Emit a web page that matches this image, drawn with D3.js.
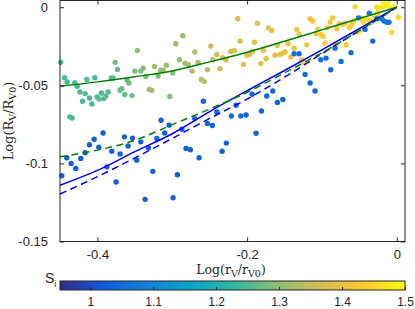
<!DOCTYPE html>
<html>
<head>
<meta charset="utf-8">
<script src="https://cdn.jsdelivr.net/npm/d3@7"></script>
<style>
  body { margin: 0; background: #fff; }
  svg { display: block; font-family: "Liberation Sans", Arial, sans-serif; }
</style>
</head>
<body>
<div id="chart"></div>
<script>
// points: [Log(rV/rV0), Log(RV/RV0), S_i]
const greenPts = [
  [-0.449,-0.0353,1.24],[-0.444,-0.0451,1.24],[-0.4405,-0.0479,1.24],[-0.4302,-0.0483,1.25],
  [-0.4271,-0.0506,1.24],[-0.4235,-0.0543,1.25],[-0.42,-0.0602,1.25],[-0.4142,-0.0462,1.25],
  [-0.4164,-0.0553,1.25],[-0.4107,-0.0581,1.25],[-0.4075,-0.0619,1.25],[-0.4035,-0.0451,1.25],
  [-0.4004,-0.0575,1.25],[-0.3977,-0.0588,1.26],[-0.3947,-0.0549,1.25],[-0.3914,-0.0585,1.26],
  [-0.3888,-0.057,1.26],[-0.3857,-0.0543,1.26],[-0.3813,-0.0453,1.26],[-0.379,-0.0453,1.26],
  [-0.3763,-0.0353,1.28],[-0.3733,-0.0398,1.27],[-0.3697,-0.0532,1.27],[-0.3674,-0.0521,1.27],
  [-0.3634,-0.0559,1.27],[-0.3603,-0.0468,1.28],[-0.358,-0.0485,1.28],[-0.3536,-0.0566,1.28],
  [-0.35,-0.0409,1.28],[-0.3466,-0.0277,1.31],[-0.342,-0.0409,1.29],[-0.3389,-0.0391,1.29],
  [-0.3353,-0.0444,1.29],[-0.3309,-0.0527,1.32],[-0.3273,-0.0532,1.32],[-0.3238,-0.0379,1.31],
  [-0.3189,-0.0441,1.29],[-0.3158,-0.0404,1.31],[-0.3122,-0.0404,1.31],[-0.3078,-0.0372,1.31],
  [-0.4369,-0.0702,1.25],[-0.4338,-0.0709,1.25],[-0.3033,-0.0572,1.29],[-0.2993,-0.0421,1.3],
  [-0.2953,-0.0234,1.31],[-0.2904,-0.0336,1.31],[-0.2859,-0.0183,1.32],[-0.2828,-0.0358,1.32],
  [-0.2784,-0.0368,1.32],[-0.2735,-0.0409,1.33],[-0.2699,-0.0287,1.33],[-0.2655,-0.0353,1.33],
  [-0.2611,-0.0462,1.34],[-0.2574,-0.0476,1.34]
];
const orangePts = [
  [-0.253,-0.04,1.35],[-0.2485,-0.0249,1.36],[-0.2458,-0.0336,1.36],[-0.2405,-0.0302,1.37],
  [-0.2361,-0.0393,1.37],[-0.2325,-0.0323,1.38],[-0.2281,-0.0336,1.38],[-0.2218,-0.0283,1.38],
  [-0.217,-0.0277,1.38],[-0.2124,-0.0074,1.38],[-0.2094,-0.0217,1.38],[-0.2049,-0.0366,1.39],
  [-0.2004,-0.0308,1.39],[-0.1969,-0.0302,1.39],[-0.1929,-0.0283,1.38],[-0.1902,-0.0224,1.39],
  [-0.1862,-0.0102,1.39],[-0.1817,-0.0361,1.39],[-0.1782,-0.0277,1.39],[-0.1746,-0.033,1.4],
  [-0.1715,-0.0132,1.4],[-0.167,-0.0149,1.4],[-0.1626,-0.0308,1.4],[-0.1595,-0.0245,1.4],
  [-0.1559,-0.0302,1.4],[-0.1523,-0.0294,1.4],[-0.1492,-0.0287,1.4],[-0.1452,-0.0234,1.41],
  [-0.1416,-0.0319,1.4],[-0.1372,-0.0262,1.41],[-0.1336,-0.0142,1.41],[-0.1305,-0.0174,1.41]
];
const yellowPts = [
  [-0.1269,-0.0336,1.42],[-0.1238,-0.0351,1.42],[-0.1202,-0.024,1.42],[-0.1158,-0.0074,1.42],
  [-0.1122,-0.0089,1.42],[-0.1078,-0.017,1.42],[-0.1055,-0.0142,1.43],[-0.1011,-0.0174,1.43],
  [-0.0985,-0.0187,1.43],[-0.0958,-0.0229,1.43],[-0.0927,-0.0132,1.43],[-0.0891,-0.0096,1.43],
  [-0.0855,-0.0068,1.43],[-0.0824,-0.0238,1.43],[-0.0802,-0.0138,1.43],[-0.0767,-0.0106,1.44],
  [-0.0721,-0.011,1.44],[-0.0691,-0.0102,1.44],[-0.0677,-0.024,1.43],[-0.0633,-0.0132,1.44],
  [-0.0601,-0.011,1.44],[-0.058,-0.0089,1.44],[-0.0557,0.0004,1.45],[-0.0534,-0.016,1.44],
  [-0.05,-0.0149,1.44],[-0.0481,-0.0068,1.45],[-0.0446,-0.0096,1.45],[-0.0424,-0.0085,1.45],
  [-0.0379,-0.008,1.45],[-0.0347,-0.0085,1.45],[-0.0334,-0.0096,1.45],[-0.029,-0.0059,1.46],
  [-0.0267,0,1.46],[-0.0246,-0.0059,1.46],[-0.0254,-0.0032,1.46],[-0.0223,0,1.47],
  [-0.017,0.0004,1.47],[-0.0134,0.0011,1.48],[-0.0112,0.0036,1.49],[-0.009,0,1.48],
  [-0.0067,-0.016,1.45],[-0.0023,0,1.5],[0.0021,-0.0064,1.46],[-0.0179,0.0032,1.49]
];
const bluePts = [
  [-0.1372,-0.0298,1.06],[-0.1305,-0.0298,1.06],[-0.1225,-0.043,1.05],[-0.1158,-0.0485,1.05],
  [-0.1092,-0.0536,1.05],[-0.1015,-0.0336,1.06],[-0.0945,-0.0326,1.06],[-0.0882,-0.04,1.05],
  [-0.0824,-0.0262,1.06],[-0.0744,-0.0347,1.05],[-0.0611,-0.0291,1.05],[-0.0513,-0.0068,1.07],
  [-0.0424,-0.0142,1.06],[-0.0366,-0.0038,1.07],[-0.0321,-0.0217,1.05],[-0.0267,-0.0074,1.07],
  [-0.02,-0.0074,1.07],[-0.017,-0.0089,1.07],[-0.0134,-0.0096,1.07],[-0.0103,-0.0096,1.07],
  [-0.1657,-0.0536,1.04],[-0.1595,-0.061,1.04],[-0.1523,-0.0591,1.04],
  [-0.4476,-0.1079,1.03],[-0.4409,-0.0964,1.03],[-0.4351,-0.1,1.03],[-0.4289,-0.1032,1.03],
  [-0.4222,-0.0968,1.03],[-0.4164,-0.0932,1.03],[-0.4107,-0.0881,1.03],[-0.4044,-0.0845,1.03],
  [-0.3981,-0.0896,1.03],[-0.3924,-0.0805,1.03],[-0.3874,-0.1022,1.03],[-0.3808,-0.0922,1.03],
  [-0.375,-0.1119,1.03],[-0.3697,-0.0939,1.03],[-0.3639,-0.083,1.03],[-0.359,-0.0888,1.03],
  [-0.3532,-0.0838,1.03],[-0.3474,-0.0979,1.03],[-0.342,-0.0862,1.03],[-0.3319,-0.09,1.03],
  [-0.326,-0.1051,1.03],[-0.3363,-0.123,1.03],[-0.3206,-0.084,1.03],[-0.3149,-0.0724,1.03],
  [-0.31,-0.0805,1.03],[-0.3042,-0.0755,1.03],[-0.2989,-0.122,1.03],[-0.2931,-0.1073,1.03],
  [-0.2872,-0.0781,1.03],[-0.2815,-0.0904,1.03],[-0.2758,-0.0913,1.03],[-0.2699,-0.0713,1.03],
  [-0.2641,-0.0964,1.03],[-0.2584,-0.0602,1.04],[-0.253,-0.0745,1.03],[-0.2464,-0.0757,1.03],
  [-0.2405,-0.0671,1.04],[-0.2334,-0.0922,1.03],[-0.2277,-0.087,1.03],[-0.221,-0.0696,1.04],
  [-0.2147,-0.0628,1.04],[-0.2084,-0.0696,1.04],[-0.2013,-0.069,1.04],[-0.1933,-0.0557,1.04],
  [-0.188,-0.0807,1.04],[-0.1809,-0.0664,1.04],[-0.1737,-0.0568,1.04]
];

// fitted curves, read at fixed x positions
const fitX = [-0.45, -0.4, -0.35, -0.3, -0.25, -0.2, -0.15, -0.1, -0.05, 0];
const greenSolid = [-0.0506, -0.0478, -0.0445, -0.0408, -0.0350, -0.0288, -0.0218, -0.0145, -0.0072, 0];
const greenDashed = [-0.0958, -0.0915, -0.0852, -0.0752, -0.0652, -0.0545, -0.0420, -0.0292, -0.0150, 0];
const blueSolid = [-0.1140, -0.1045, -0.0925, -0.0810, -0.0668, -0.0535, -0.0405, -0.0273, -0.0137, 0];
const blueDashed = [-0.1196, -0.1085, -0.0965, -0.0840, -0.0712, -0.0588, -0.0448, -0.0297, -0.0150, 0];

const xTicks = [-0.4, -0.2, 0];
const yTicks = [0, -0.05, -0.1, -0.15];
const cbTicks = [1, 1.1, 1.2, 1.3, 1.4, 1.5];
const parula = ["#352a87", "#0f5cdd", "#1481d6", "#06a4ca", "#2eb7a4", "#87bf77", "#d1bb59", "#fec832", "#f9fb0e"];
const sMin = 0.952, sMax = 1.5;

const W = 415, H = 309;
const plotLeft = 60, plotRight = 405, plotTop = 0.5, plotBottom = 241.5;

const svg = d3.select("#chart").append("svg")
    .attr("width", W)
    .attr("height", H);

const x = d3.scaleLinear().domain([-0.45, 0.011]).range([plotLeft, plotRight]);
const y = d3.scaleLinear().domain([-0.15, 0.0043]).range([plotBottom, plotTop]);

const cStops = parula.map((c, i) => sMin + (sMax - sMin) * i / (parula.length - 1));
const color = d3.scaleLinear().domain(cStops).range(parula).clamp(true);
const fmt = d => String(d);

// scatter
const allPts = greenPts.concat(orangePts, yellowPts, bluePts);
svg.append("g")
    .selectAll("circle")
    .data(allPts)
    .join("circle")
    .attr("cx", d => x(d[0]))
    .attr("cy", d => y(d[1]))
    .attr("r", 2.7)
    .attr("fill", d => color(d[2]));

// fit lines
const line = d3.line()
    .x(d => x(d[0]))
    .y(d => y(d[1]))
    .curve(d3.curveMonotoneX);

const fits = [
    {vals: greenSolid, stroke: "#008000", dash: null},
    {vals: blueSolid, stroke: "#0000ff", dash: null},
    {vals: blueDashed, stroke: "#0000ff", dash: "7,4.5"},
    {vals: greenDashed, stroke: "#008000", dash: "7,4.5"}
];
fits.forEach(f => {
    svg.append("path")
        .datum(fitX.map((v, i) => [v, f.vals[i]]))
        .attr("d", line)
        .attr("fill", "none")
        .attr("stroke", f.stroke)
        .attr("stroke-width", 1.5)
        .attr("stroke-dasharray", f.dash);
});

// axes
const axisColor = "#262626";
function styleAxis(g) {
    g.select(".domain").remove();
    g.selectAll("line").attr("stroke", axisColor);
    g.selectAll("text").attr("fill", axisColor).style("font-size", "13px")
        .style("font-family", "'Liberation Sans', Arial, sans-serif");
}

svg.append("g")
    .attr("transform", `translate(0,${plotBottom})`)
    .call(d3.axisBottom(x).tickValues(xTicks).tickFormat(fmt).tickSize(-4).tickPadding(8))
    .call(styleAxis);
svg.append("g")
    .attr("transform", `translate(0,${plotTop})`)
    .call(d3.axisTop(x).tickValues(xTicks).tickFormat("").tickSize(-4))
    .call(styleAxis);
svg.append("g")
    .attr("transform", `translate(${plotLeft},0)`)
    .call(d3.axisLeft(y).tickValues(yTicks).tickFormat(fmt).tickSize(-4).tickPadding(12))
    .call(styleAxis);
svg.append("g")
    .attr("transform", `translate(${plotRight},0)`)
    .call(d3.axisRight(y).tickValues(yTicks).tickFormat("").tickSize(-4))
    .call(styleAxis);

svg.append("rect")
    .attr("x", plotLeft)
    .attr("y", plotTop)
    .attr("width", plotRight - plotLeft)
    .attr("height", plotBottom - plotTop)
    .attr("fill", "none")
    .attr("stroke", axisColor)
    .attr("stroke-width", 1);

// axis titles
const serif = "'DejaVu Serif', serif";
const xl = svg.append("text")
    .attr("x", 231)
    .attr("y", 273.5)
    .attr("text-anchor", "middle")
    .style("font-family", serif)
    .style("font-size", "12.5px")
    .attr("fill", axisColor);
xl.append("tspan").text("Log(r");
xl.append("tspan").attr("dy", 3).style("font-size", "9.5px").text("V");
xl.append("tspan").attr("dy", -3).text("/r");
xl.append("tspan").attr("dy", 3).style("font-size", "9.5px").text("V0");
xl.append("tspan").attr("dy", -3).text(")");

const yl = svg.append("text")
    .attr("transform", "translate(13,121) rotate(-90)")
    .attr("text-anchor", "middle")
    .style("font-family", serif)
    .style("font-size", "13px")
    .attr("fill", axisColor);
yl.append("tspan").text("Log(R");
yl.append("tspan").attr("dy", 3).style("font-size", "9.5px").text("V");
yl.append("tspan").attr("dy", -3).text("/R");
yl.append("tspan").attr("dy", 3).style("font-size", "9.5px").text("V0");
yl.append("tspan").attr("dy", -3).text(")");

// colorbar
const cbTop = 281, cbBottom = 290;
const cx = d3.scaleLinear().domain([sMin, sMax]).range([plotLeft, plotRight]);
const grad = svg.append("defs").append("linearGradient")
    .attr("id", "parula")
    .attr("x1", "0%").attr("x2", "100%").attr("y1", "0%").attr("y2", "0%");
grad.selectAll("stop")
    .data(parula)
    .join("stop")
    .attr("offset", (d, i) => (i / (parula.length - 1) * 100) + "%")
    .attr("stop-color", d => d);

svg.append("rect")
    .attr("x", plotLeft)
    .attr("y", cbTop)
    .attr("width", plotRight - plotLeft)
    .attr("height", cbBottom - cbTop)
    .attr("fill", "url(#parula)")
    .attr("stroke", axisColor)
    .attr("stroke-width", 1);

svg.append("g")
    .attr("transform", `translate(0,${cbBottom})`)
    .call(d3.axisBottom(cx).tickValues(cbTicks).tickFormat(fmt).tickSize(-3).tickPadding(7.5))
    .call(styleAxis)
    .selectAll("text").style("font-size", "12px");

const sl = svg.append("text")
    .attr("x", 45)
    .attr("y", 283)
    .style("font-size", "14px")
    .attr("fill", axisColor);
sl.append("tspan").text("S");
sl.append("tspan").attr("dy", 4).style("font-size", "9px").text("i");
</script>
</body>
</html>
